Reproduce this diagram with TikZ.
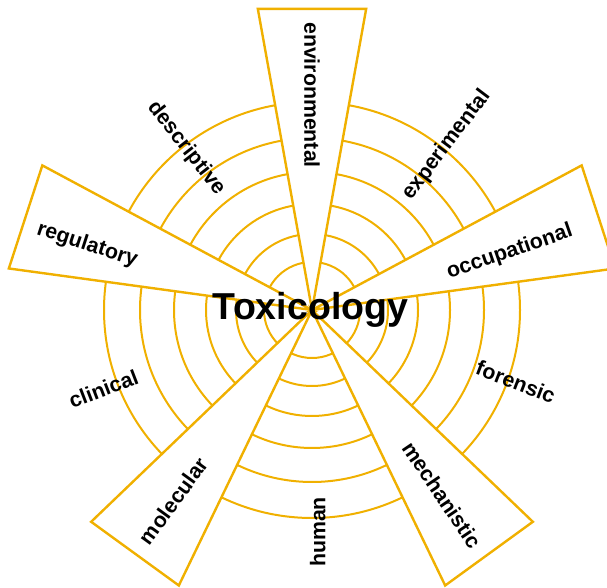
\documentclass[tikz,border=0pt]{standalone}
\usepackage{fontspec}
\setmainfont{Liberation Sans}
\usetikzlibrary{positioning}
\definecolor{toxgold}{RGB}{240,176,0}

\begin{document}
\begin{tikzpicture}[x=1pt, y=1pt,
  ring/.style={draw=toxgold, line width=2pt},
  wedge/.style={draw=toxgold, fill=white, line width=2.4pt, line join=miter},
  lbl/.style={font=\bfseries\fontsize{21.3}{21.3}\selectfont, inner sep=0pt},
  title/.style={font=\bfseries\fontsize{37.5}{37.5}\selectfont, inner sep=0pt}]
\useasboundingbox (0,0) rectangle (607,588);
\clip (0,0) rectangle (607,588);
\begin{scope}[shift={(312,278)}]
\coordinate (O) at (0,0);
% rings
\foreach \r in {48,76,106,138,172,208}
  \draw[ring] (O) circle[radius=\r pt];
% spokes
\foreach \a in {90,18,-54,-126,162}
  \draw[wedge] (O) -- (\a+10.2:306) -- (\a-10.2:306) -- cycle;
% fields
\foreach \a/\d/\rot/\t in {90/215/-90/environmental, 16.3/206/19/occupational,
    -54.9/226/-56/mechanistic, -126/236/54/molecular, 163.9/234/-18/regulatory,
    127.9/205/-52/descriptive, 50.7/213/53/experimental, -19.4/216/-21/forensic,
    -88.5/222/90/human, 200.7/223/21/clinical}
  \node[lbl, rotate=\rot] (\t) at (\a:\d) {\t};
\node[title, anchor=base] (toxicology) at (-1.5,-10) {Toxicology};
\end{scope}
\end{tikzpicture}
\end{document}
